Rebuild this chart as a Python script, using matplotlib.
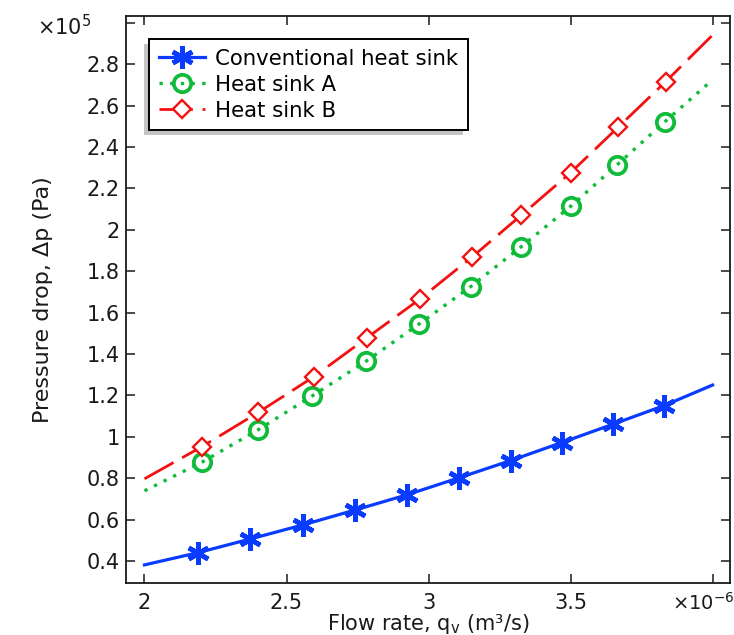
import numpy as np
import matplotlib
matplotlib.use("Agg")
import matplotlib.pyplot as plt
from matplotlib.patches import Rectangle

# flow rate in 1e-6 m^3/s, pressure drop in 1e5 Pa
conv_q = [2.0, 2.188, 2.372, 2.557, 2.741, 2.925, 3.108, 3.289, 3.469, 3.650, 3.828, 4.0]
conv_dp = [0.381, 0.440, 0.506, 0.574, 0.646, 0.720, 0.802, 0.885, 0.972, 1.061, 1.150, 1.250]

a_q = [2.0, 2.202, 2.399, 2.590, 2.781, 2.965, 3.148, 3.326, 3.500, 3.663, 3.832, 4.0]
a_dp = [0.739, 0.877, 1.033, 1.197, 1.366, 1.543, 1.725, 1.918, 2.113, 2.313, 2.522, 2.725]

b_q = [2.0, 2.202, 2.401, 2.596, 2.784, 2.970, 3.152, 3.326, 3.500, 3.667, 3.835, 4.0]
b_dp = [0.797, 0.952, 1.118, 1.290, 1.479, 1.666, 1.867, 2.070, 2.276, 2.495, 2.716, 2.941]

labels = ["Conventional heat sink", "Heat sink A", "Heat sink B"]

xticks = [2, 2.5, 3, 3.5, 4]
xticklabels = ["2", "2.5", "3", "3.5", ""]
yticks = np.round(np.arange(0.4, 3.01, 0.2), 1)
yticklabels = ["%g" % v for v in yticks[:-1]] + [""]

plt.rcParams['font.family'] = ['DejaVu Sans']
ink = "#1a1a1a"

fig = plt.figure(figsize=(7.34, 6.35), dpi=100)
ax = fig.add_axes([0.1717, 0.0814, 0.8235, 0.8934])

marks = list(range(1, 11))
ax.plot(conv_q, conv_dp, color="#0a3cff", lw=2.3, ls="-",
        marker=(6, 2, 0), ms=16, mew=3.4, markevery=marks, label=labels[0])
ax.plot(a_q, a_dp, color="#10bb3a", lw=2.4, ls=(0, (1, 2.2)),
        marker="o", ms=12.5, mew=2.7, mfc="none", markevery=marks, label=labels[1])
ax.plot(b_q, b_dp, color="#f41010", lw=2.0, ls=(0, (12, 3.5)),
        marker="D", ms=9, mew=1.7, mfc="white", markevery=marks, label=labels[2])

ax.set_xlim(1.935, 4.063)
ax.set_ylim(0.292, 3.033)
ax.set_xticks(xticks)
ax.set_xticklabels(xticklabels)
ax.set_yticks(yticks)
ax.set_yticklabels(yticklabels)

ax.tick_params(direction="in", top=True, right=True, length=6.5, width=1.1,
               labelsize=15, colors=ink)
ax.tick_params(axis="y", pad=4.5)
ax.tick_params(axis="x", pad=7)
for s in ax.spines.values():
    s.set_linewidth(1.3)
    s.set_color(ink)

ax.set_xlabel("Flow rate, q$_\\mathregular{v}$ (m³/s)", fontsize=15, labelpad=-1, color=ink)
ax.set_ylabel("Pressure drop, Δp (Pa)", fontsize=16, labelpad=24, color=ink)

fig.text(37 / 734, 1 - 35 / 635, r"$\times\mathregular{10^{5}}$",
         fontsize=15, ha="left", va="baseline", color=ink)
fig.text(672 / 734, 1 - 610 / 635, r"$\times\mathregular{10^{-6}}$",
         fontsize=14, ha="left", va="baseline", color=ink)

leg = ax.legend(loc="upper left", bbox_to_anchor=(0.038, 0.959), borderaxespad=0,
                fontsize=15.3, frameon=True, fancybox=False, edgecolor="black",
                facecolor="white", framealpha=1,
                handlelength=2.2, handletextpad=0.47, labelspacing=0.28,
                borderpad=0.45)
leg.get_frame().set_linewidth(1.4)
leg.set_zorder(5)

# gray drop shadow to the lower left of the legend box
fig.canvas.draw()
bb = leg.get_window_extent()
shadow = Rectangle((bb.x0 - 5, bb.y0 - 5), bb.width, bb.height,
                   transform=None, facecolor="#c4c4c4", edgecolor="none", zorder=4)
ax.add_artist(shadow)

fig.savefig("out.png", dpi=100)
